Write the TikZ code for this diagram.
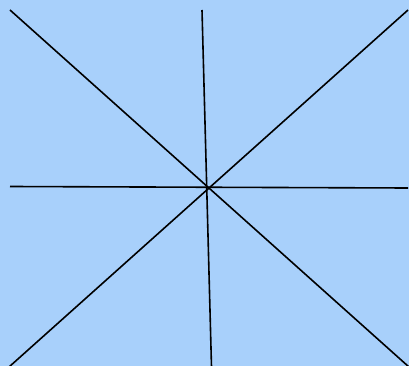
\documentclass[tikz,border=0pt]{standalone}
\definecolor{skyback}{RGB}{168,208,251}
\begin{document}
\begin{tikzpicture}[
      x=1pt, y=-1pt,
      spoke/.style={draw, black, line width=1.6pt}
    ]
      \fill[skyback] (0,0) rectangle (409,366);
      \useasboundingbox (0,0) rectangle (409,366);
      % ends of the spokes
      \coordinate (topleft) at (10,10);
      \coordinate (bottomright) at (409,367);
      \coordinate (topright) at (408,10);
      \coordinate (bottomleft) at (9,367);
      \coordinate (top) at (202,10);
      \coordinate (bottom) at (211.5,367);
      \coordinate (left) at (10,186.5);
      \coordinate (right) at (408,188);
      \draw[spoke] (topleft) -- (bottomright);
      \draw[spoke] (topright) -- (bottomleft);
      \draw[spoke] (top) -- (bottom);
      \draw[spoke] (left) -- (right);
    \end{tikzpicture}
\end{document}
